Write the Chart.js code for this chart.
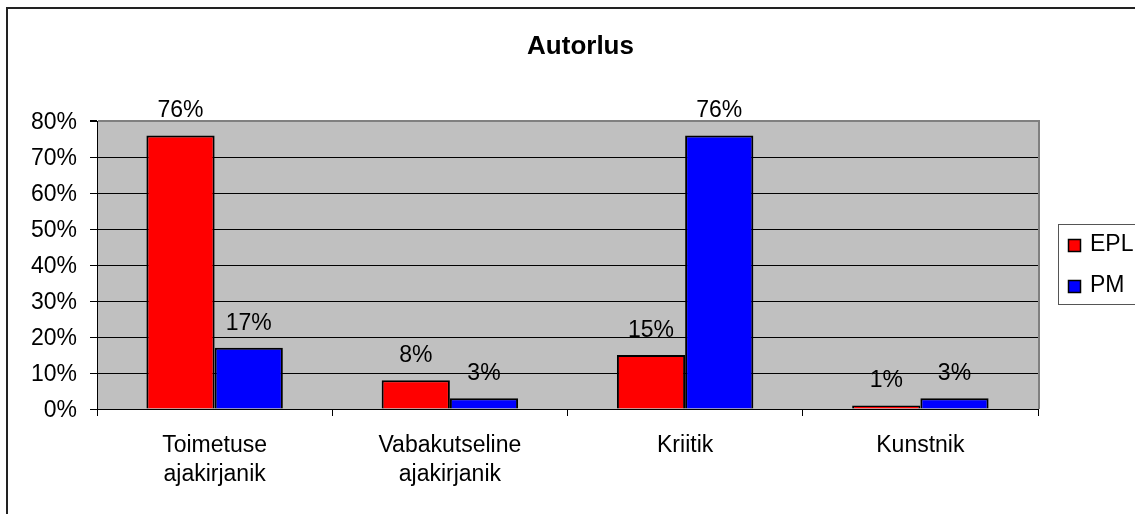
<!DOCTYPE html>
<html><head><meta charset="utf-8">
<script src="https://cdn.jsdelivr.net/npm/chart.js@4"></script>
<style>html,body{margin:0;padding:0;background:#fff}canvas{display:block}</style>
</head><body>
<canvas id="c" width="1135" height="514"></canvas>
<script>
const categories = [['Toimetuse', 'ajakirjanik'], ['Vabakutseline', 'ajakirjanik'], 'Kriitik', 'Kunstnik'];
const seriesNames = ['EPL', 'PM'];
const eplValues = [76, 8, 15, 1];
const pmValues = [17, 3, 76, 3];
const yTickLabels = ['0%', '10%', '20%', '30%', '40%', '50%', '60%', '70%', '80%'];
const seriesColors = ['#FF0000', '#0000FF'];
const titleText = 'Autorlus';

const FONT = "'Liberation Sans', Arial, sans-serif";

const bgPlugin = {
  id: 'bg',
  beforeDraw(chart) {
    const ctx = chart.ctx, a = chart.chartArea;
    ctx.save();
    ctx.fillStyle = '#fff';
    ctx.fillRect(0, 0, chart.width, chart.height);
    ctx.strokeStyle = '#222';
    ctx.lineWidth = 2;
    ctx.strokeRect(7, 8, 3000, 3000);
    ctx.fillStyle = '#C0C0C0';
    ctx.fillRect(a.left, a.top, a.right - a.left, a.bottom - a.top);
    // title
    ctx.fillStyle = '#000';
    ctx.font = 'bold 26px ' + FONT;
    ctx.textAlign = 'center';
    ctx.textBaseline = 'alphabetic';
    ctx.fillText(titleText, 580.5, 54);
    ctx.restore();
  },
  afterDatasetsDraw(chart) {
    const ctx = chart.ctx, a = chart.chartArea;
    ctx.save();
    // right plot border
    ctx.strokeStyle = '#808080';
    ctx.lineWidth = 2;
    ctx.beginPath();
    ctx.moveTo(a.right + 1, a.top - 1);
    ctx.lineTo(a.right + 1, a.bottom);
    ctx.stroke();
    // data labels
    ctx.fillStyle = '#000';
    ctx.font = '23px ' + FONT;
    ctx.textAlign = 'center';
    ctx.textBaseline = 'alphabetic';
    chart.data.datasets.forEach((ds, i) => {
      const meta = chart.getDatasetMeta(i);
      meta.data.forEach((el, j) => {
        ctx.fillText(ds.data[j] + '%', el.x, el.y - 18);
      });
    });
    // legend
    ctx.strokeStyle = '#555';
    ctx.lineWidth = 1;
    ctx.strokeRect(1058.5, 224.5, 200, 80);
    ctx.textAlign = 'left';
    chart.data.datasets.forEach((ds, i) => {
      const y = 239 + i * 41;
      ctx.fillStyle = ds.backgroundColor;
      ctx.fillRect(1068, y, 13, 13);
      ctx.strokeStyle = '#000';
      ctx.lineWidth = 1.5;
      ctx.strokeRect(1068.5, y + 0.5, 12, 12);
      ctx.fillStyle = '#000';
      ctx.fillText(ds.label, 1090, y + 12);
    });
    ctx.restore();
  }
};

new Chart(document.getElementById('c'), {
  type: 'bar',
  data: {
    labels: categories,
    datasets: [
      { label: seriesNames[0], data: eplValues, backgroundColor: seriesColors[0], borderColor: '#000', borderWidth: 2 },
      { label: seriesNames[1], data: pmValues, backgroundColor: seriesColors[1], borderColor: '#000', borderWidth: 2 }
    ]
  },
  options: {
    responsive: false,
    animation: false,
    devicePixelRatio: 1,
    layout: { padding: { left: 0, right: 97, top: 121, bottom: 0 } },
    datasets: { bar: { categoryPercentage: 0.58, barPercentage: 1.0 } },
    plugins: {
      legend: { display: false },
      tooltip: { enabled: false },
      title: { display: false }
    },
    scales: {
      x: {
        grid: { display: true, drawOnChartArea: false, drawTicks: true, tickLength: 7, color: '#000', offset: true },
        border: { display: true, color: '#000', width: 1 },
        ticks: { color: '#000', font: { family: FONT, size: 23, lineHeight: 1.27 }, padding: 15, maxRotation: 0, autoSkip: false },
        afterFit(s) { s.height = 105; }
      },
      y: {
        min: 0, max: 80,
        grid: {
          color: (c) => (c.tick && c.tick.value === 80) ? '#808080' : '#000',
          lineWidth: (c) => (c.tick && c.tick.value === 80) ? 2 : 1,
          tickColor: '#000', tickLength: 7, drawTicks: true
        },
        border: { display: true, color: '#000', width: 1 },
        ticks: {
          stepSize: 10,
          color: '#000',
          padding: 13,
          labelOffset: 2,
          font: { family: FONT, size: 23 },
          callback: (v, i) => yTickLabels[i]
        },
        afterFit(s) { s.width = 97; }
      }
    }
  },
  plugins: [bgPlugin]
});
</script>
</body></html>
